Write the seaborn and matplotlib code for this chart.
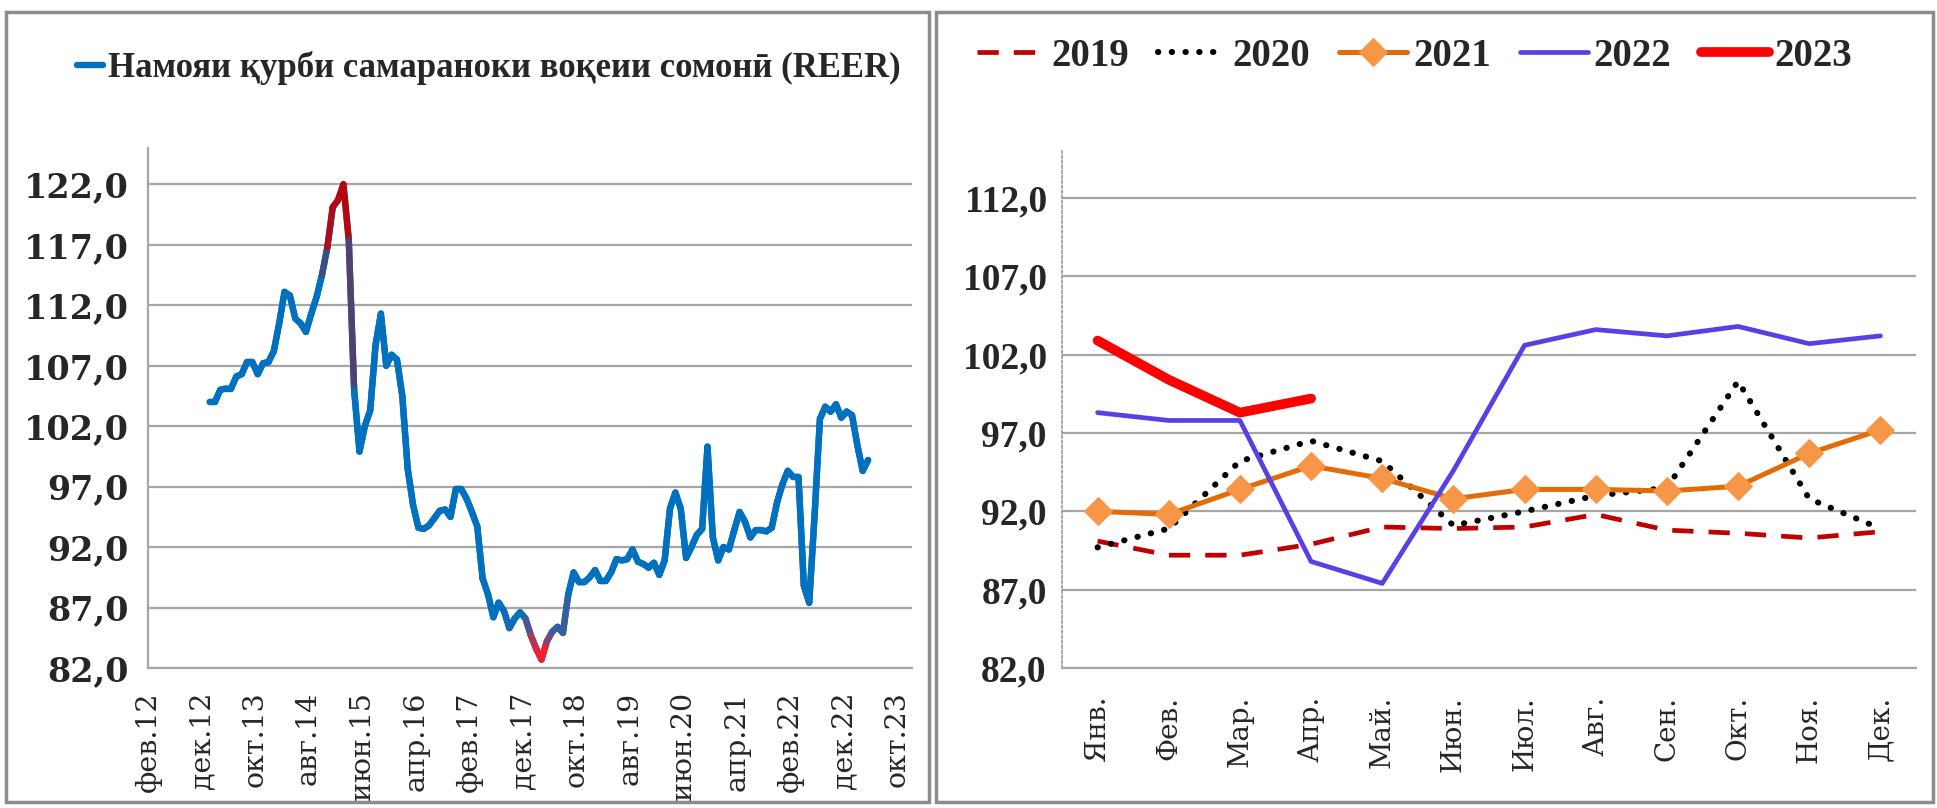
import numpy as np
import pandas as pd
import seaborn as sns
import matplotlib.pyplot as plt
from matplotlib.collections import LineCollection
from matplotlib.patches import Rectangle
from matplotlib.ticker import FuncFormatter

# ---- data ----
# REER, monthly, Jan 2013 .. Dec 2018
reer_2013_2018 = [
    104.0, 104.0, 105.0, 105.1, 105.1, 106.1, 106.3, 107.3, 107.3, 106.3, 107.2, 107.3,
    108.2, 110.5, 113.1, 112.8, 110.9, 110.5, 109.8, 111.3, 112.7, 114.5, 116.8, 120.1,
    120.7, 122.0, 117.4, 105.0, 99.9, 102.0, 103.3, 108.7, 111.3, 107.0, 107.9, 107.5,
    104.5, 98.5, 95.5, 93.6, 93.5, 93.8, 94.4, 95.0, 95.1, 94.5, 96.8, 96.8,
    96.0, 94.9, 93.7, 89.4, 88.1, 86.2, 87.4, 86.7, 85.3, 86.1, 86.6, 86.1,
    84.7, 83.6, 82.7, 84.2, 85.0, 85.4, 84.9, 88.1, 89.9, 89.1, 89.1, 89.5,
]
y2019 = [90.1, 89.2, 89.2, 89.9, 91.0, 90.9, 91.0, 91.8, 90.8, 90.6, 90.3, 90.7]
y2020 = [89.7, 90.9, 95.2, 96.5, 95.2, 91.1, 92.0, 93.0, 93.5, 100.3, 92.8, 90.9]
y2021 = [92.0, 91.8, 93.4, 94.9, 94.1, 92.8, 93.4, 93.4, 93.3, 93.6, 95.7, 97.2]
y2022 = [98.3, 97.8, 97.8, 88.8, 87.4, 94.6, 102.6, 103.6, 103.2, 103.8, 102.7, 103.2]
y2023 = [102.9, 100.4, 98.3, 99.2]

first_month_index = 11          # Jan 2013 counted from фев.12
left_ticklabels = ['фев.12', 'дек.12', 'окт.13', 'авг.14', 'июн.15', 'апр.16', 'фев.17',
                   'дек.17', 'окт.18', 'авг.19', 'июн.20', 'апр.21', 'фев.22', 'дек.22', 'окт.23']
months = ['Янв.', 'Фев.', 'Мар.', 'Апр.', 'Май.', 'Июн.', 'Июл.', 'Авг.', 'Сен.', 'Окт.', 'Ноя.', 'Дек.']
years = ['2019', '2020', '2021', '2022', '2023']
legend_left = 'Намояи қурби самараноки воқеии сомонӣ (REER)'

reer = reer_2013_2018 + y2019 + y2020 + y2021 + y2022 + y2023
reer_df = pd.DataFrame({'pos': np.arange(len(reer)) + first_month_index + 0.5, 'value': reer})

# ---- style ----
sns.set_theme(style='white')
plt.rcParams['font.family'] = ['DejaVu Serif']
grid_c = '#a6a6a6'
blue = np.array([0.0, 0.44, 0.75])

fig = plt.figure(figsize=(19.37, 8.08), dpi=100)
W, H = 1937, 808
ax1 = fig.add_axes([148 / W, 1 - 668 / H, (912 - 148) / W, (668 - 148) / H])
ax2 = fig.add_axes([1062 / W, 1 - 668 / H, (1916 - 1062) / W, (668 - 151) / H])

comma = FuncFormatter(lambda v, p: f'{v:.1f}'.replace('.', ','))

# ---- left panel ----
sns.lineplot(data=reer_df, x='pos', y='value', ax=ax1, color=blue, lw=4.6,
             solid_joinstyle='round', solid_capstyle='round', zorder=3)

# gradient tint at the peak and the trough
pts = reer_df[['pos', 'value']].to_numpy()
segs = np.stack([pts[:-1], pts[1:]], axis=1)
seg_cols = []
for a, b in zip(pts[:-1, 1], pts[1:, 1]):
    m = max(a, b)
    lo = min(a, b)
    col = blue.copy()
    if m > 115:
        t = min((m - 115) / 5.5, 1)
        col = (1 - t) * blue + t * np.array([0.72, 0.02, 0.06])
    elif lo < 85.5:
        t = min((85.5 - lo) / 2.6, 1)
        col = (1 - t) * blue + t * np.array([0.95, 0.12, 0.2])
    seg_cols.append(col)
lc = LineCollection(segs, colors=seg_cols, linewidths=4.6, capstyle='round',
                    joinstyle='round', zorder=4)
ax1.add_collection(lc)

ax1.set_xlim(0, 142.7)
ax1.set_ylim(82, 125)
ax1.set_yticks(np.arange(82, 123, 5))
ax1.yaxis.set_major_formatter(comma)
ax1.set_xticks(np.arange(0, 141, 10))
ax1.set_xticklabels(left_ticklabels, rotation=90)
ax1.grid(axis='y', color=grid_c, lw=1.6)
ax1.set_xlabel('')
ax1.set_ylabel('')
for s in ['top', 'right']:
    ax1.spines[s].set_visible(False)
for s in ['left', 'bottom']:
    ax1.spines[s].set_color(grid_c)
    ax1.spines[s].set_linewidth(1.6)
ax1.tick_params(axis='x', direction='out', length=11, width=1.6, color=grid_c,
                labelsize=20.5, pad=6)
ax1.tick_params(axis='y', direction='out', length=11, width=1.6, color=grid_c,
                labelsize=24, pad=3)
for t in ax1.get_yticklabels():
    t.set_fontweight('bold')

h1 = ax1.get_lines()[0]
ax1.legend([h1], [legend_left], loc='center left', bbox_to_anchor=(60 / W, 1 - 68 / H),
           bbox_transform=fig.transFigure, frameon=False, borderpad=0,
           handlelength=0.75, handletextpad=0.12,
           prop={'family': 'Liberation Serif', 'weight': 'bold', 'size': 25})

# ---- right panel ----
styles = {
    '2019': dict(color='#c00000', lw=3.4, ls=(0, (4.5, 3.2))),
    '2020': dict(color='black', lw=4.4, ls=(0, (0.05, 2.2)), dash_capstyle='round'),
    '2021': dict(color='#e36c09', lw=3.6, ls='-', marker='D', ms=14,
                 mfc='#f79646', mec='#f79646'),
    '2022': dict(color='#5a3ee6', lw=3.4, ls='-'),
    '2023': dict(color='#ff0000', lw=7, ls='-', solid_capstyle='round'),
}
series = {'2019': y2019, '2020': y2020, '2021': y2021, '2022': y2022, '2023': y2023}
for yr in years:
    vals = series[yr]
    d = pd.DataFrame({'m': np.arange(len(vals)), 'value': vals})
    sns.lineplot(data=d, x='m', y='value', ax=ax2, label=yr, zorder=3, **styles[yr])

ax2.set_xlim(-0.5, 11.5)
ax2.set_ylim(82, 115)
ax2.set_yticks(np.arange(82, 113, 5))
ax2.yaxis.set_major_formatter(comma)
ax2.set_xticks(np.arange(12))
ax2.set_xticklabels(months, rotation=90)
ax2.set_xticks(np.arange(-0.5, 12, 1), minor=True)
ax2.grid(axis='y', color=grid_c, lw=1.6)
ax2.set_xlabel('')
ax2.set_ylabel('')
for s in ['top', 'right']:
    ax2.spines[s].set_visible(False)
ax2.spines['bottom'].set_color(grid_c)
ax2.spines['bottom'].set_linewidth(1.6)
ax2.spines['left'].set_color('#9a9a9a')
ax2.spines['left'].set_linewidth(1.2)
ax2.spines['left'].set_linestyle((0, (1.5, 1.5)))
ax2.tick_params(axis='x', which='major', length=0, labelsize=20, pad=20)
ax2.tick_params(axis='x', which='minor', direction='out', length=16, width=1.6, color=grid_c)
ax2.tick_params(axis='y', direction='out', length=7, width=1.2, color='#9a9a9a',
                labelsize=27, pad=4)
for t in ax2.get_yticklabels():
    t.set_fontweight('bold')
    t.set_family('Liberation Serif')

ax2.legend(loc='center left', bbox_to_anchor=(958 / W, 1 - 56 / H),
           bbox_transform=fig.transFigure, ncol=5, frameon=False, borderpad=0,
           handlelength=1.75, handletextpad=0.15, columnspacing=0.75,
           prop={'family': 'Liberation Serif', 'weight': 'bold', 'size': 28})

# ---- panel frames ----
frame_c = '#8c8c8c'
fig.patches.append(Rectangle((6 / W, 6 / H), (929 - 6) / W, (796 - 6) / H,
                             transform=fig.transFigure, fill=False, ec=frame_c, lw=2.5))
fig.patches.append(Rectangle((936 / W, 6 / H), (1933 - 936) / W, (796 - 6) / H,
                             transform=fig.transFigure, fill=False, ec=frame_c, lw=2.5))

fig.savefig('out.png', dpi=100)
